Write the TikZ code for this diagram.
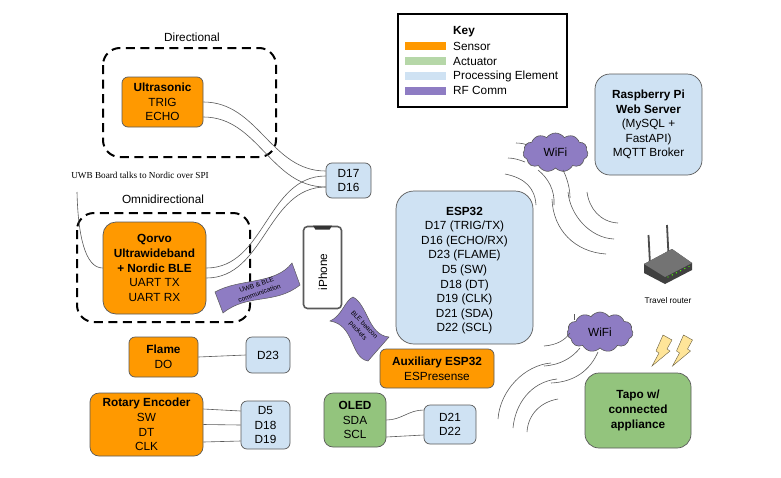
\documentclass[tikz,border=0pt]{standalone}
\usepackage{fontspec}
\setmainfont{Liberation Sans}
\newfontfamily\serifnote{Liberation Serif}
\usetikzlibrary{shapes.symbols}
\definecolor{sensororange}{HTML}{FF9900}
\definecolor{actuatorgreen}{HTML}{93C47D}
\definecolor{keygreen}{HTML}{B6D7A8}
\definecolor{procblue}{HTML}{CFE2F3}
\definecolor{rfpurple}{HTML}{8E7CC3}
\definecolor{edgegrey}{HTML}{595959}
\definecolor{boltyellow}{HTML}{FFE599}
\tikzset{%
	every block/.style={
		draw=edgegrey,
		line width=0.7pt,
		rounded corners=6pt,
		align=center,
		inner sep=0pt,
		font=\fontsize{11.8}{14.6}\selectfont
	},
	sensor block/.style={
		every block,
		fill=sensororange
	},
	actuator block/.style={
		every block,
		fill=actuatorgreen
	},
	pin block/.style={
		every block,
		fill=procblue
	},
	wire/.style={
		draw=edgegrey,
		line width=0.6pt
	},
	zone/.style={
		draw=black,
		line width=2pt,
		dash pattern=on 9pt off 5.5pt,
		rounded corners=17pt
	},
	swatch/.style={
		fill=#1,
		minimum width=41pt,
		minimum height=8pt,
		inner sep=0pt
	},
	key text/.style={
		anchor=west,
		inner sep=0pt,
		font=\fontsize{11.8}{14}\selectfont
	},
	rf flag/.style={
		fill=rfpurple,
		draw=edgegrey,
		line width=0.5pt
	},
	rf text/.style={
		align=center,
		inner sep=0pt,
		font=\fontsize{6.6}{8.8}\selectfont
	},
	rf cloud/.style={
		cloud,
		cloud puffs=11,
		cloud puff arc=110,
		aspect=1.7,
		fill=rfpurple,
		draw=edgegrey,
		line width=0.6pt,
		inner sep=0pt,
		font=\fontsize{11.8}{14}\selectfont
	},
	bolt/.style={
		fill=boltyellow,
		draw=black!60!boltyellow,
		line width=0.4pt
	},
}
\begin{document}
\begin{tikzpicture}[x=1pt,y=-1pt]
	\useasboundingbox (0,0) rectangle (781,477);

	\draw[zone] (103,48) rectangle (276,157);
	\draw[zone] (77,213) rectangle (250,322);
	\node[font=\fontsize{11.8}{14}\selectfont,inner sep=0pt] (dirlabel) at (192,37) {Directional};
	\node[font=\fontsize{11.8}{14}\selectfont,inner sep=0pt] (omnilabel) at (163,199) {Omnidirectional};
	\node[font=\fontsize{9.2}{11}\serifnote,inner sep=0pt] (spilabel) at (140,175) {UWB Board talks to Nordic over SPI};

	\node[sensor block,minimum width=81pt,minimum height=50pt] (ultrasonic) at (162.5,102) {\textbf{Ultrasonic}\\TRIG\\ECHO};
	\node[sensor block,rounded corners=13pt,minimum width=103pt,minimum height=92pt] (qorvo) at (154.5,268) {\textbf{Qorvo}\\\textbf{Ultrawideband}\\\textbf{+ Nordic BLE}\\UART TX\\UART RX};
	\node[sensor block,minimum width=69pt,minimum height=40pt] (flame) at (163.5,357) {\textbf{Flame}\\DO};
	\node[sensor block,rounded corners=9pt,minimum width=113pt,minimum height=63pt] (rotary) at (146.5,424.5) {\textbf{Rotary Encoder}\\SW\\DT\\CLK};
	\node[sensor block,minimum width=114pt,minimum height=39pt] (auxesp) at (437,368.5) {\textbf{Auxiliary ESP32}\\ESPresense};
	\node[actuator block,rounded corners=9pt,minimum width=62pt,minimum height=54pt] (oled) at (355,420) {\textbf{OLED}\\SDA\\SCL};
	\node[actuator block,rounded corners=14pt,minimum width=106pt,minimum height=75pt] (tapo) at (638,410.5) {\textbf{Tapo w/}\\\textbf{connected}\\\textbf{appliance}};

	\node[pin block,minimum width=45pt,minimum height=35pt] (pinsa) at (348.5,180.5) {D17\\D16};
	\node[pin block,minimum width=44pt,minimum height=36pt] (pinsb) at (268,355) {D23};
	\node[pin block,minimum width=49pt,minimum height=48pt] (pinsc) at (265.5,425) {D5\\D18\\D19};
	\node[pin block,minimum width=52pt,minimum height=39pt] (pinsd) at (450,424.5) {D21\\D22};
	\node[pin block,rounded corners=18pt,minimum width=137pt,minimum height=153pt] (esp) at (464.5,267.5) {};
	\node[every block,draw=none] (esptext) at (464.5,270.5) {\textbf{ESP32}\\D17 (TRIG/TX)\\D16 (ECHO/RX)\\D23 (FLAME)\\D5 (SW)\\D18 (DT)\\D19 (CLK)\\D21 (SDA)\\D22 (SCL)};
	\node[pin block,rounded corners=15pt,minimum width=107pt,minimum height=101pt] (rasp) at (648.5,124.5) {\textbf{Raspberry Pi}\\\textbf{Web Server}\\(MySQL +\\FastAPI)\\MQTT Broker};

	\draw[wire] (ultrasonic.east) to[out=0,in=180] ([yshift=9.5pt]pinsa.west);
	\draw[wire] ([yshift=-15pt]ultrasonic.east) to[out=0,in=180] ([yshift=-6.5pt]pinsa.west);
	\draw[wire] (qorvo.east) to[out=0,in=180] ([yshift=4.5pt]pinsa.west);
	\draw[wire] ([yshift=-10pt]qorvo.east) to[out=0,in=180] ([yshift=-6.5pt]pinsa.west);
	\coordinate (spistart) at (77,192);
	\draw[wire] (spistart) .. controls (78,235) and (85,268) .. (qorvo.west);
	\draw[wire] (flame.east) -- (pinsb.west);
	\draw[wire] ([yshift=15.5pt]rotary.east) -- ([yshift=14pt]pinsc.west);
	\draw[wire] (rotary.east) -- (pinsc.west);
	\draw[wire] ([yshift=-17.5pt]rotary.east) -- ([yshift=-16pt]pinsc.west);
	\draw[wire] (oled.east) to[out=0,in=180] ([yshift=14.5pt]pinsd.west);
	\draw[wire] ([yshift=-17pt]oled.east) -- ([yshift=-10.5pt]pinsd.west);

	\node[draw=edgegrey,line width=1.6pt,rounded corners=4pt,fill=white,minimum width=38pt,minimum height=82pt,inner sep=0pt] (iphone) at (322.5,267.5) {};
	\fill[black!80] ([xshift=-9.5pt]iphone.north) -- ([xshift=9.5pt]iphone.north) -- ([xshift=7pt,yshift=-4pt]iphone.north) -- ([xshift=-7pt,yshift=-4pt]iphone.north) -- cycle;
	\node[rotate=90,inner sep=0pt,font=\fontsize{11.8}{14}\selectfont] (iphonelabel) at (323,272) {iPhone};

	\draw[rf flag] (215,292) .. controls (240,278) and (275,285) .. (292,263) -- (300,285) .. controls (275,305) and (248,293) .. (223,313) -- cycle;
	\node[rf text,rotate=19] (uwbflag) at (258,289) {UWB \& BLE\\communication};
	\draw[rf flag] (330,321) .. controls (342,316) and (345,300) .. (353,297) .. controls (368,305) and (368,335) .. (389,337) -- (368,361) .. controls (350,358) and (355,325) .. (330,321) -- cycle;
	\node[rf text,rotate=-47] (bleflag) at (361,328) {BLE beacon\\packets};

	\node[rf cloud,minimum width=65pt,minimum height=39pt] (wifia) at (555.5,152.5) {WiFi};
	\node[rf cloud,minimum width=66pt,minimum height=40pt] (wifib) at (600,332) {WiFi};

	\draw[wire] (516,143) .. controls (521,143) and (525,144) .. (527,145);
	\draw[wire] (508,158) .. controls (514,158) and (520,160) .. (525,162);
	\draw[wire] (505,174) .. controls (525,178) and (535,188) .. (536,205);
	\draw[wire] (538,170) .. controls (548,178) and (555,190) .. (554,205);
	\draw[wire] (563,170) .. controls (568,180) and (570,190) .. (570,198);
	\draw[wire] (552,199) .. controls (553,230) and (575,252) .. (606,254);
	\draw[wire] (568,192) .. controls (570,215) and (590,238) .. (614,239);
	\draw[wire] (587,192) .. controls (589,208) and (600,222) .. (618,223);

	\draw[wire] (544,346) .. controls (557,345) and (565,340) .. (570,333);
	\draw[wire] (574,314) -- (574,320);
	\draw[wire] (544,366) .. controls (560,365) and (572,358) .. (580,348);
	\draw[wire] (551,383) .. controls (575,382) and (590,370) .. (598,352);
	\draw[wire] (498,419) .. controls (500,390) and (525,365) .. (551,363);
	\draw[wire] (513,428) .. controls (515,405) and (530,382) .. (557,379);
	\draw[wire] (527,432) .. controls (528,415) and (540,402) .. (558,399);

	\draw[line width=1.8pt,black!70] (648.5,235) -- (650,264);
	\draw[line width=1.8pt,black!70] (667,225) -- (668.5,255);
	\fill[black!75] (644,264) -- (672,249) -- (692,263) -- (692,270) -- (665,284) -- (644,273) -- cycle;
	\fill[black!55] (644,264) -- (672,249) -- (692,263) -- (665,277) -- cycle;
	\foreach \i in {0,...,5}
		\fill[green!70!yellow] (668+4.2*\i,277-2.1*\i) circle (0.7pt);
	\node[inner sep=0pt,font=\fontsize{8.3}{10}\selectfont] (routerlabel) at (668,300.5) {Travel router};

	\foreach \dx in {0,20.5}
		\draw[bolt,xshift=\dx pt] (663,335) -- (672,340) -- (667,349) -- (670,351) -- (652,366) -- (659,353) -- (656,351) -- cycle;

	\node[draw=black,line width=1.5pt,minimum width=169pt,minimum height=93pt,inner sep=0pt] (keybox) at (482.5,60.5) {};
	\node[anchor=west,inner sep=0pt,font=\bfseries\fontsize{11.8}{14}\selectfont] (keytitle) at (453,32) {Key};
	\node[swatch=sensororange] (swsensor) at (425.5,46) {};
	\node[swatch=keygreen] (swactuator) at (425.5,60.5) {};
	\node[swatch=procblue] (swproc) at (425.5,76) {};
	\node[swatch=rfpurple] (swrf) at (425.5,91) {};
	\node[key text] (ksensor) at (453,46) {Sensor};
	\node[key text] (kactuator) at (453,61) {Actuator};
	\node[key text] (kproc) at (453,76) {Processing Element};
	\node[key text] (krf) at (453,90) {RF Comm};
\end{tikzpicture}
\end{document}
